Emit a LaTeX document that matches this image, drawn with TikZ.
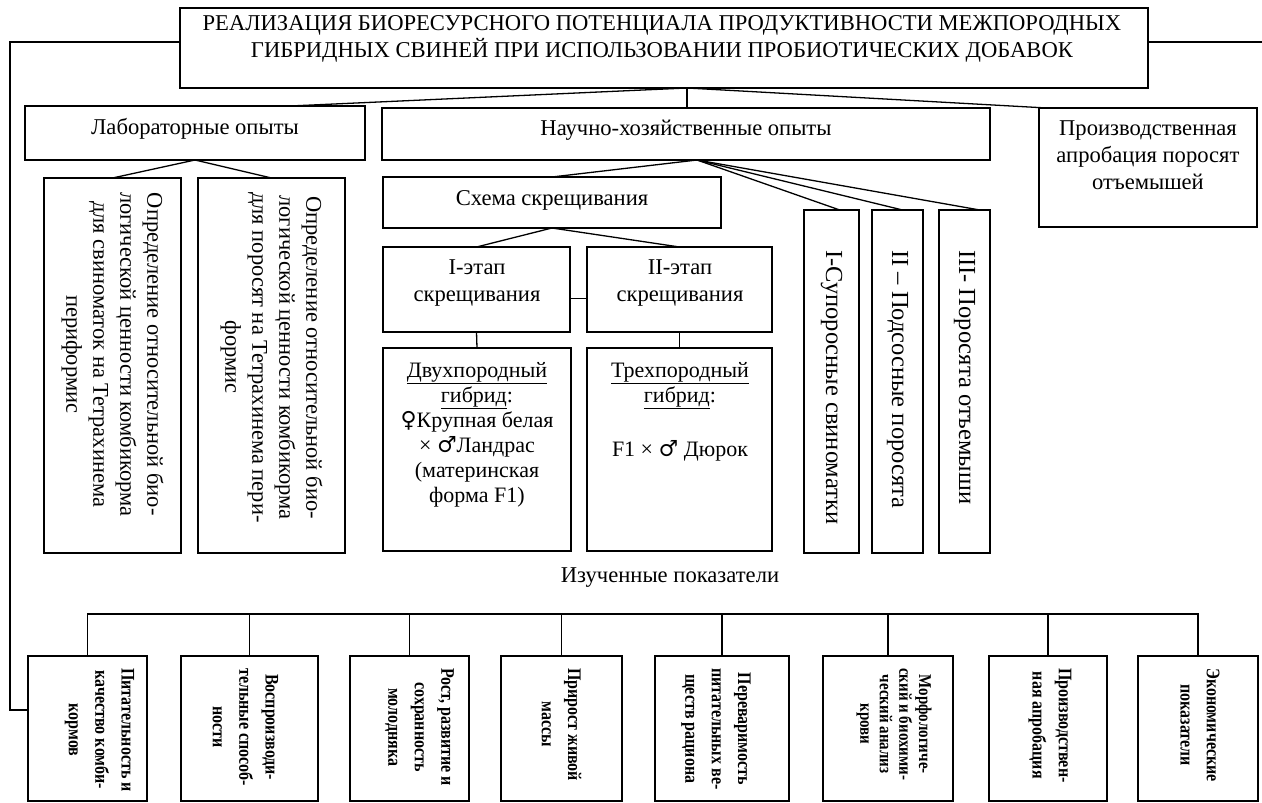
\documentclass[tikz,border=0pt]{standalone}
\usepackage{fontspec}
\setmainfont{Liberation Serif}
\newfontfamily\symfont{DejaVu Serif}
\usetikzlibrary{calc}
\newcommand{\fem}{{\symfont ♀}}
\newcommand{\mal}{{\symfont ♂}}
\begin{document}
\begin{tikzpicture}[x=1pt,y=-1pt,
  box/.style={draw, line width=1.6pt, inner sep=0pt, outer sep=0pt, anchor=north west},
  conn/.style={line width=1.3pt},
  htext/.style={font=\fontsize{22.6}{27}\selectfont, align=center, inner sep=0pt},
  vtext/.style={font=\fontsize{22.5}{27}\selectfont, align=center, inner sep=0pt, rotate=-90, anchor=west},
  btext/.style={font=\bfseries\fontsize{16}{22}\selectfont, align=center, inner sep=0pt, xscale=1.2, rotate=-90, anchor=west},
]
\useasboundingbox (0,0) rectangle (1262,803);

% boxes
\node[box, minimum width=968pt, minimum height=80pt] (T) at (180,8) {};
\node[box, minimum width=340pt, minimum height=54pt] (L) at (25,106) {};
\node[box, minimum width=608pt, minimum height=52pt] (N) at (382,108) {};
\node[box, minimum width=218pt, minimum height=119pt] (P) at (1039,108) {};
\node[box, minimum width=137pt, minimum height=375pt] (L1) at (44,178) {};
\node[box, minimum width=147pt, minimum height=375pt] (L2) at (198,178) {};
\node[box, minimum width=338pt, minimum height=51pt] (S) at (383,177) {};
\node[box, minimum width=187pt, minimum height=85pt] (E1) at (383,247) {};
\node[box, minimum width=185pt, minimum height=85pt] (E2) at (587,247) {};
\node[box, minimum width=188pt, minimum height=203pt] (H1) at (383,348) {};
\node[box, minimum width=185pt, minimum height=203pt] (H2) at (587,348) {};
\node[box, minimum width=55pt, minimum height=343pt] (V1) at (804,210) {};
\node[box, minimum width=51pt, minimum height=343pt] (V2) at (872,210) {};
\node[box, minimum width=51pt, minimum height=343pt] (V3) at (939,210) {};
\node[box, minimum width=119pt, minimum height=145pt] (B1) at (28,656) {};
\node[box, minimum width=137pt, minimum height=145pt] (B2) at (181,656) {};
\node[box, minimum width=119pt, minimum height=145pt] (B3) at (350,656) {};
\node[box, minimum width=121pt, minimum height=145pt] (B4) at (501,656) {};
\node[box, minimum width=134pt, minimum height=145pt] (B5) at (655,656) {};
\node[box, minimum width=130pt, minimum height=145pt] (B6) at (823,656) {};
\node[box, minimum width=118pt, minimum height=145pt] (B7) at (989,656) {};
\node[box, minimum width=120pt, minimum height=145pt] (B8) at (1138,656) {};

% texts
\node[htext] (Tt) at (662,39) {РЕАЛИЗАЦИЯ БИОРЕСУРСНОГО ПОТЕНЦИАЛА ПРОДУКТИВНОСТИ МЕЖПОРОДНЫХ\\ГИБРИДНЫХ СВИНЕЙ ПРИ ИСПОЛЬЗОВАНИИ ПРОБИОТИЧЕСКИХ ДОБАВОК};
\node[htext] (Lt) at (195,129) {Лабораторные опыты};
\node[htext] (Nt) at (686,130) {Научно-хозяйственные опыты};
\node[htext] (Pt) at (1148,155) {Производственная\\апробация поросят\\отъемышей};
\node[vtext] (L1t) at ($(L1.north)+(0,14)$) {Определение относительной био-\\логической ценности комбикорма\\для свиноматок на Тетрахинема\\периформис};
\node[vtext] (L2t) at ($(L2.north)+(0,14)$) {Определение относительной био-\\логической ценности комбикорма\\для поросят на Тетрахинема пери-\\формис};
\node[htext] (St) at (552,200) {Схема скрещивания};
\node[htext] (E1t) at (477,283) {I-этап\\скрещивания};
\node[htext] (E2t) at (680,283) {II-этап\\скрещивания};
\node[htext, font=\fontsize{22}{25}\selectfont, anchor=north] (H1t) at (477,362) {\underline{Двухпородный}\\\underline{гибрид}:\\\fem Крупная белая\\× \mal Ландрас\\(материнская\\форма F1)};
\node[htext, font=\fontsize{22}{25}\selectfont, anchor=north] (H2t) at (680,362) {\underline{Трехпородный}\\\underline{гибрид}:\\[29pt]F1 × \mal{} Дюрок};
\node[vtext, font=\fontsize{24.5}{27}\selectfont] (V1t) at ($(V1.north)+(0,40)$) {I-Супоросные свиноматки};
\node[vtext, font=\fontsize{24.5}{27}\selectfont] (V2t) at ($(V2.north)+(0,40)$) {II – Подсосные поросята};
\node[vtext, font=\fontsize{24.5}{27}\selectfont] (V3t) at ($(V3.north)+(0,40)$) {III- Поросята отъемыши};
\node[htext] (It) at (670,578) {Изученные показатели};
\node[btext] (B1t) at ($(B1.north)+(12,12)$) {Питательность и\\качество комби-\\кормов};
\node[btext] (B2t) at ($(B2.north)+(-4,12)$) {Воспроизводи-\\тельные способ-\\ности};
\node[btext] (B3t) at ($(B3.north)+(10,12)$) {Рост, развитие и\\сохранность\\молодняка};
\node[btext] (B4t) at ($(B4.north)+(0,12)$) {Прирост живой\\массы};
\node[btext] (B5t) at ($(B5.north)+(-6,12)$) {Переваримость\\питательных ве-\\ществ рациона};
\node[btext, font=\bfseries\fontsize{15}{16.3}\selectfont] (B6t) at ($(B6.north)+(6,12)$) {Морфологиче-\\ский и биохими-\\ческий анализ\\крови};
\node[btext] (B7t) at ($(B7.north)+(2,12)$) {Производствен-\\ная апробация};
\node[btext] (B8t) at ($(B8.north)+(2,12)$) {Экономические\\показатели};

% connectors
\coordinate (tf) at (687,88);
\draw[conn] (tf) -- (tf |- N.north);
\draw[conn] (tf) -- ($(L.north west)+(265,0)$);
\draw[conn] (tf) -- ($(P.north west)+(8,0)$);
\coordinate (nf) at (697,160);
\draw[conn] (nf) -- (S.north);
\draw[conn] (nf) -- ($(V1.north west)!0.65!(V1.north east)$);
\draw[conn] (nf) -- ($(V2.north west)!0.6!(V2.north east)$);
\draw[conn] (nf) -- ($(V3.north west)!0.8!(V3.north east)$);
\draw[conn] (L.south) -- (L1.north);
\draw[conn] (L.south) -- (L2.north);
\draw[conn] (S.south) -- (E1.north);
\draw[conn] (S.south) -- (E2.north);
\draw[conn] ([yshift=-9pt]E1.east) -- ([yshift=-9pt]E2.west);
\draw[conn] (E1.south) -- (H1.north);
\draw[conn] (E2.south) -- (H2.north);
\coordinate (lt) at (10,42);
\coordinate (lb) at (10,710);
\draw[conn] (T.west |- lt) -- (lt) -- (lb) -- (B1.west |- lb);
\coordinate (rt) at (1262,42);
\draw[conn] (T.east |- rt) -- (rt);
\coordinate (bus) at (0,614);
\draw[conn] (B1.north) -- (B1.north |- bus) -- (B8.north |- bus) -- (B8.north);
\foreach \b in {B2,B3,B4,B5,B6,B7} \draw[conn] (\b.north) -- (\b.north |- bus);
\end{tikzpicture}
\end{document}
